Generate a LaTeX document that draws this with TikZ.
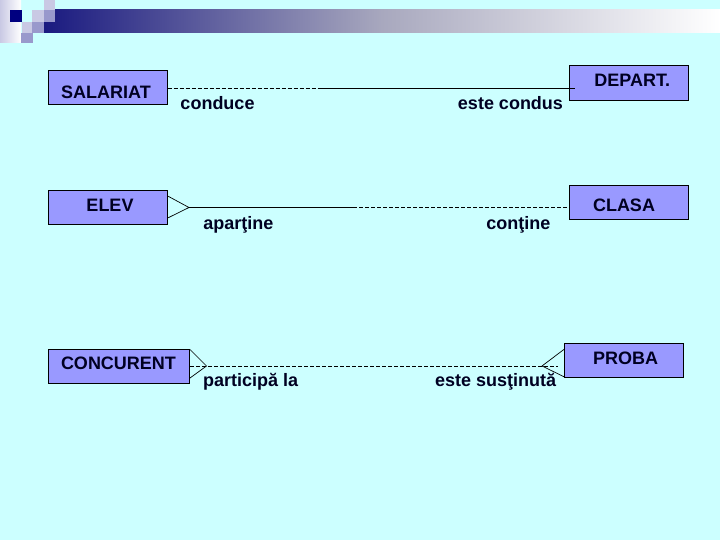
\documentclass[tikz,border=0pt]{standalone}
\usepackage{fontspec}
\setmainfont{Liberation Sans}
\definecolor{bgc}{HTML}{CCFFFF}
\definecolor{boxc}{HTML}{9999FF}
\definecolor{navyc}{HTML}{000080}
\definecolor{barc}{HTML}{1A1A80}
\definecolor{barm}{HTML}{A8A8BE}
\definecolor{lilac}{HTML}{C9C9E4}
\definecolor{midc}{HTML}{9999CC}
\definecolor{inkc}{HTML}{000022}
\tikzset{
  entity/.style={draw=black,fill=boxc,line width=1pt,inner sep=0pt,outer sep=0pt,anchor=north west},
  lab/.style={anchor=base,inner sep=0pt,font=\bfseries\fontsize{18pt}{20pt}\selectfont,text=inkc},
  rel/.style={line width=1pt,draw=black},
  reld/.style={rel,dash pattern=on 4pt off 2pt},
  prong/.style={draw=black,line width=0.7pt},
}
\begin{document}
\begin{tikzpicture}[x=1pt,y=-1pt]
\useasboundingbox (0,0) rectangle (720,540);
\fill[bgc] (0,0) rectangle (720,540);
% template decoration
\shade[left color=lilac,right color=white] (0,0) rectangle (21,43);
\shade[left color=barc,right color=white,middle color=barm] (44,10) rectangle (720,33);
\fill[navyc] (10,10) rectangle (22,22);
\fill[lilac] (32,10) rectangle (44,22);
\fill[lilac] (44,0) rectangle (55,10);
\fill[midc] (44,10) rectangle (55,22);
\fill[lilac] (22,22) rectangle (32,33);
\fill[midc] (32,22) rectangle (44,33);
\fill[midc] (21,33) rectangle (33,43.5);
% junction and free-end points
\coordinate (s1) at (320,88.5);
\coordinate (d1) at (575,88.5);
\coordinate (e1) at (189,207.5);
\coordinate (e2) at (353,207.5);
\coordinate (c1) at (206.5,366);
\coordinate (p1) at (542,366);
\coordinate (p2) at (558,366);
\coordinate (et) at (167.7,196);
\coordinate (eb) at (167.7,218);
\coordinate (ct) at (190,349.5);
\coordinate (cb) at (190,378);
\coordinate (cm) at (190,366);
\coordinate (pt) at (564.5,349);
\coordinate (pb) at (564.5,377);
% entity boxes
\node[entity,minimum width=119.5pt,minimum height=34pt] (salariat) at (48,71) {};
\node[entity,minimum width=119pt,minimum height=35pt] (depart) at (569.5,65.3) {};
\node[entity,minimum width=119.5pt,minimum height=34pt] (elev) at (48,190.3) {};
\node[entity,minimum width=119.5pt,minimum height=34.5pt] (clasa) at (569.3,185.3) {};
\node[entity,minimum width=141.5pt,minimum height=34.5pt] (concurent) at (48.3,349.3) {};
\node[entity,minimum width=119.5pt,minimum height=34pt] (proba) at (564.3,343.3) {};
% connectors
\draw[reld] (salariat.east |- s1) -- (s1);
\draw[rel] (s1) -- (d1);
\draw[rel] (e1) -- (e2);
\draw[reld] (e2) -- (e2 -| clasa.west);
\draw[prong] (et) -- (e1) -- (eb);
\draw[reld] (cm) -- (p2);
\draw[prong] (ct) -- (c1) -- (cb);
\draw[prong] (pt) -- (p1) -- (pb);
% labels
\node[lab] (tsal) at (106,98.3) {SALARIAT};
\node[lab] (tdep) at (632.3,86.7) {DEPART.};
\node[lab] (tcon) at (217.5,110) {conduce};
\node[lab] (tcds) at (510.5,110) {este condus};
\node[lab] (tele) at (110,211.7) {ELEV};
\node[lab] (tcla) at (624,211.7) {CLASA};
\node[lab] (tapa) at (238.4,229.3) {aparţine};
\node[lab] (tcnt) at (518.4,229.3) {conţine};
\node[lab] (tccr) at (118.5,369.3) {CONCURENT};
\node[lab] (tpro) at (625.5,364.6) {PROBA};
\node[lab] (tpar) at (250.6,386.7) {participă la};
\node[lab] (tsus) at (495.6,386.7) {este susţinută};
\end{tikzpicture}
\end{document}
